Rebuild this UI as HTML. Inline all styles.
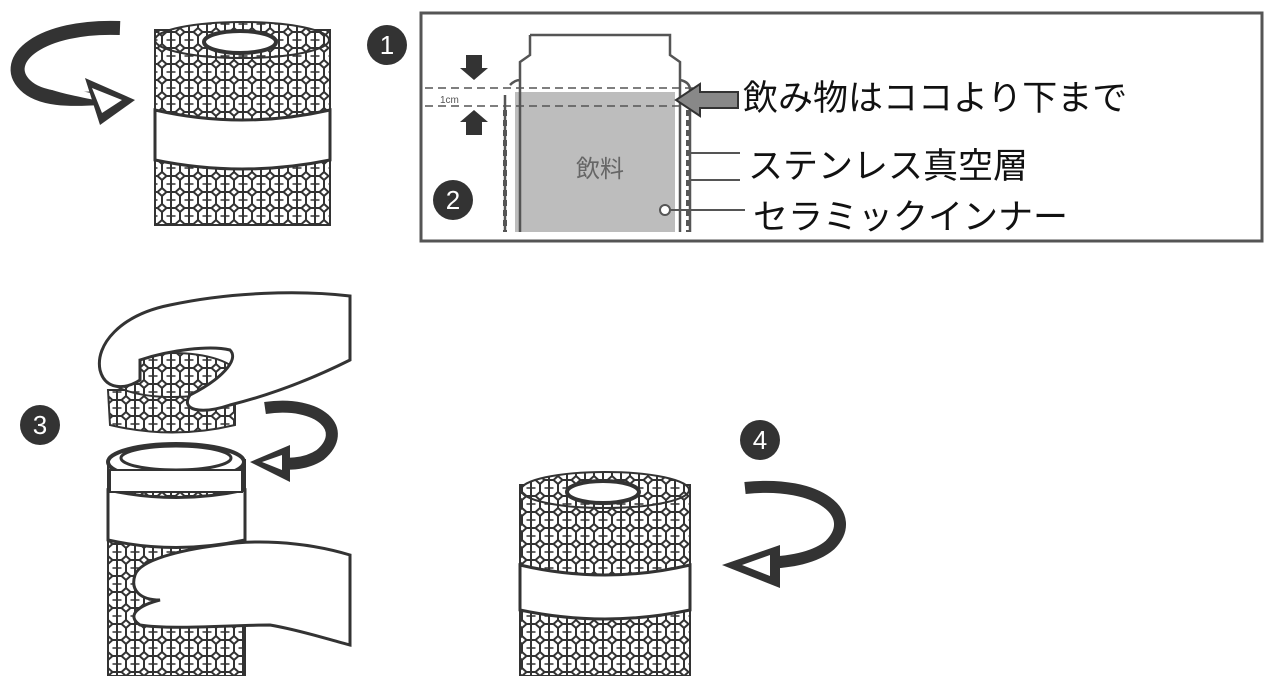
<!DOCTYPE html>
<html><head><meta charset="utf-8"><style>
html,body{margin:0;padding:0;background:#fff;width:1271px;height:676px;overflow:hidden}
svg{display:block}
text{font-family:"Liberation Sans","Noto Sans CJK JP",sans-serif}
</style></head><body>
<svg width="1271" height="676" viewBox="0 0 1271 676" xmlns="http://www.w3.org/2000/svg">
<defs>
<pattern id="hex" width="18" height="16" patternUnits="userSpaceOnUse">
<rect width="18" height="16" fill="#fff"/>
<path d="M0 4 L4.5 0 L13.5 0 L18 4 M0 4 L0 12 L4.5 16 M18 4 L18 12 L13.5 16 M4.5 16 L13.5 16 M9 0 V16" stroke="#333" stroke-width="2" fill="none"/>
<path d="M4.5 8 H13.5" stroke="#333" stroke-width="1.5"/>
</pattern>
</defs>

<!-- top-left arrow -->
<path d="M120 28 C40 25 0 60 25 85 C40 100 70 100 100 98" fill="none" stroke="#333" stroke-width="14"/>
<path d="M100 98 C60 90 35 85 28 70" fill="none" stroke="#fff" stroke-width="6"/>
<polygon points="85,78 135,100 100,125" fill="#333"/>
<polygon points="92,88 122,100 102,113" fill="#fff"/>

<!-- top-left bottle -->
<rect x="155" y="30" width="175" height="195" fill="url(#hex)" stroke="#333" stroke-width="2"/>
<ellipse cx="242" cy="40" rx="87" ry="18" fill="url(#hex)" stroke="#333" stroke-width="2"/>
<ellipse cx="240" cy="42" rx="36" ry="11" fill="#fff" stroke="#333" stroke-width="4"/>
<path d="M155 110 Q242 130 330 110 L330 160 Q242 178 155 160 Z" fill="#fff" stroke="#333" stroke-width="3"/>

<!-- circles -->
<g fill="#333">
<circle cx="387" cy="45" r="20"/><circle cx="453" cy="200" r="20"/>
<circle cx="40" cy="425" r="20"/><circle cx="760" cy="440" r="20"/>
</g>
<g fill="#fff" font-size="26" text-anchor="middle">
<text x="387" y="54">1</text><text x="453" y="209">2</text>
<text x="40" y="434">3</text><text x="760" y="449">4</text>
</g>

<!-- box -->
<rect x="421" y="13" width="841" height="228" fill="none" stroke="#555" stroke-width="3"/>
<!-- inner bottle -->
<rect x="515" y="92" width="160" height="140" fill="#bdbdbd"/>
<path d="M530 35 H670 V55 L680 62 V232 M530 35 V55 L520 62 V232 M505 95 V232 M690 90 V232 M510 85 Q515 80 520 80 M680 80 Q690 82 690 90" fill="none" stroke="#555" stroke-width="2.5"/>
<path d="M505 110 V232" stroke="#555" stroke-width="4" stroke-dasharray="6 4"/>
<path d="M688 110 V232" stroke="#555" stroke-width="4" stroke-dasharray="6 4"/>
<line x1="425" y1="88" x2="700" y2="88" stroke="#555" stroke-width="1.5" stroke-dasharray="8 5"/>
<line x1="425" y1="106" x2="700" y2="106" stroke="#555" stroke-width="1.5" stroke-dasharray="8 5"/>
<text x="440" y="103" font-size="10" fill="#555">1cm</text>
<polygon points="466,55 482,55 482,68 488,68 474,80 460,68 466,68" fill="#333"/>
<polygon points="466,135 482,135 482,122 488,122 474,110 460,122 466,122" fill="#333"/>
<polygon points="738,92 700,92 700,84 676,100 700,116 700,108 738,108" fill="#888" stroke="#333" stroke-width="2"/>
<text x="600" y="177" font-size="24" fill="#666" text-anchor="middle">飲料</text>
<line x1="690" y1="153" x2="740" y2="153" stroke="#555" stroke-width="2"/>
<line x1="690" y1="180" x2="740" y2="180" stroke="#555" stroke-width="2"/>
<line x1="665" y1="210" x2="745" y2="210" stroke="#555" stroke-width="2"/>
<circle cx="665" cy="210" r="5" fill="#fff" stroke="#555" stroke-width="2"/>
<g font-size="35" fill="#111">
<text x="743" y="110">飲み物はココより下まで</text>
<text x="748" y="178">ステンレス真空層</text>
<text x="753" y="229">セラミックインナー</text>
</g>

<!-- bottom-left bottle -->
<rect x="108" y="460" width="137" height="216" fill="url(#hex)" stroke="#333" stroke-width="2"/>
<path d="M108 490 Q176 505 245 490 L245 540 Q176 555 108 540 Z" fill="#fff" stroke="#333" stroke-width="3"/>
<ellipse cx="176" cy="462" rx="68" ry="18" fill="#fff" stroke="#333" stroke-width="4"/>
<ellipse cx="176" cy="458" rx="55" ry="12" fill="#fff" stroke="#333" stroke-width="3"/>
<rect x="110" y="470" width="132" height="22" fill="#fff" stroke="#333" stroke-width="2"/>
<!-- lid -->
<path d="M108 390 L235 390 L235 425 Q172 440 110 425 Z" fill="url(#hex)" stroke="#333" stroke-width="2"/>
<ellipse cx="172" cy="375" rx="65" ry="22" fill="url(#hex)" stroke="#333" stroke-width="2"/>
<!-- hands -->
<path d="M350 296 C300 290 230 292 170 305 C120 315 95 345 100 370 C105 390 125 390 140 380 L140 360 C170 350 210 345 230 350 C240 360 220 380 190 395 C180 410 200 415 230 405 C270 395 310 380 350 360 Z" fill="#fff" stroke="#333" stroke-width="3"/>
<path d="M350 555 C300 540 250 540 220 545 C180 550 140 560 135 575 C130 590 140 600 160 600 C140 605 125 615 140 625 C170 630 230 625 270 625 C300 630 330 640 350 645 Z" fill="#fff" stroke="#333" stroke-width="3"/>
<!-- arrow 3 -->
<path d="M265 408 C320 400 350 430 320 455 C305 465 285 465 270 462" fill="none" stroke="#333" stroke-width="12"/>
<polygon points="290,445 250,462 290,482" fill="#333"/>
<polygon points="282,455 262,462 282,470" fill="#fff"/>

<!-- bottom-middle bottle -->
<rect x="520" y="485" width="170" height="191" fill="url(#hex)" stroke="#333" stroke-width="2"/>
<ellipse cx="605" cy="490" rx="84" ry="18" fill="url(#hex)" stroke="#333" stroke-width="2"/>
<ellipse cx="603" cy="492" rx="36" ry="11" fill="#fff" stroke="#333" stroke-width="4"/>
<path d="M520 565 Q605 585 690 565 L690 610 Q605 628 520 610 Z" fill="#fff" stroke="#333" stroke-width="3"/>
<!-- arrow 4 -->
<path d="M745 488 C820 480 860 515 830 545 C815 558 790 562 765 563" fill="none" stroke="#333" stroke-width="12"/>
<polygon points="780,545 722,565 780,588" fill="#333"/>
<polygon points="770,555 742,565 770,576" fill="#fff"/>
</svg>
</body></html>
